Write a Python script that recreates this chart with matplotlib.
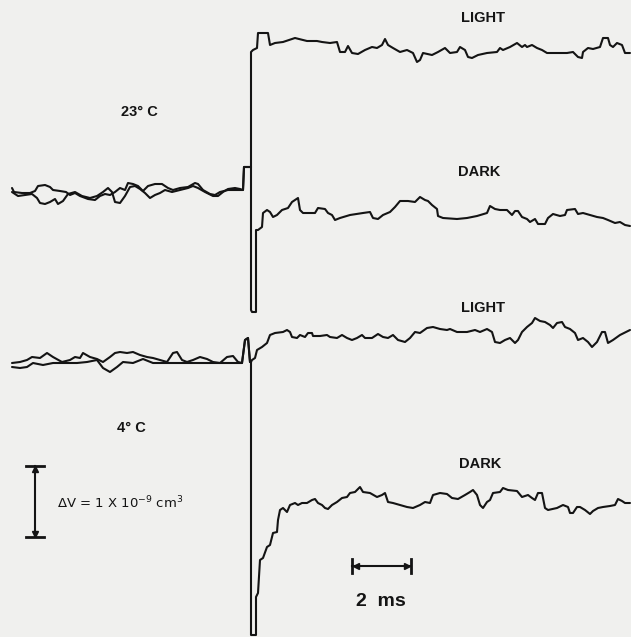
import matplotlib.pyplot as plt

# trace samples: x = horizontal position, y = vertical position
# (both in the record's own units, y increasing downward)

# ---- 23 C, before the flash: the two sweeps overlap ----
warm_light_pre_x = [12, 14, 22, 30, 35, 38, 45, 50, 53, 60, 66, 70, 75, 80, 88, 95, 100, 105, 110, 115,
                    120, 125, 128, 133, 138, 143, 148, 155, 162, 168, 173, 180, 188, 195, 198, 203, 210,
                    215, 220, 228, 235, 240, 243, 244, 249, 251]
warm_light_pre_y = [188, 192, 193, 193, 191, 186, 185, 187, 190, 191, 192, 195, 193, 196, 199, 200, 196, 194,
                    195, 192, 188, 190, 183, 184, 186, 191, 186, 184, 184, 188, 190, 188, 187, 183, 184, 190,
                    194, 195, 192, 190, 190, 190, 190, 167, 167, 167]
warm_dark_pre_x = [12, 18, 25, 32, 37, 40, 45, 50, 55, 58, 63, 68, 75, 82, 90, 97, 103, 108, 112, 115, 120,
                   125, 130, 135, 140, 145, 150, 155, 160, 165, 172, 180, 188, 193, 198, 205, 213, 218, 223,
                   228, 235, 240, 243, 244, 249, 251]
warm_dark_pre_y = [192, 196, 195, 194, 198, 203, 204, 202, 199, 204, 201, 194, 192, 196, 198, 196, 192, 188,
                   192, 202, 203, 196, 187, 186, 189, 193, 198, 195, 193, 190, 192, 190, 188, 186, 188, 192,
                   196, 196, 192, 189, 188, 189, 190, 167, 167, 167]

# ---- 23 C, after the flash ----
warm_light_x = [251, 251, 253, 257, 258, 268, 270, 275, 283, 295, 307, 317, 322, 330, 337, 340, 345, 348,
                352, 358, 365, 372, 377, 382, 385, 388, 393, 400, 407, 413, 417, 420, 423, 432, 438, 445,
                450, 457, 460, 465, 468, 472, 478, 487, 497, 500, 503, 510, 517, 522, 525, 527, 532, 537,
                542, 547, 553, 560, 567, 573, 578, 582, 583, 588, 593, 600, 603, 608, 610, 613, 617, 622,
                625, 630]
warm_light_y = [167, 52, 50, 48, 33, 33, 45, 43, 42, 38, 41, 41, 42, 43, 42, 52, 52, 46, 53, 54, 50, 47, 48,
                45, 39, 45, 48, 52, 50, 53, 62, 60, 53, 55, 52, 48, 53, 52, 47, 50, 57, 58, 55, 53, 52, 48,
                50, 47, 43, 47, 45, 47, 45, 48, 50, 53, 53, 53, 53, 52, 57, 58, 52, 48, 49, 47, 38, 38, 45,
                47, 43, 45, 53, 53]
warm_dark_x = [251, 251, 252, 256, 256, 258, 262, 263, 267, 270, 273, 277, 282, 288, 292, 295, 298, 300,
               303, 315, 318, 325, 328, 332, 335, 340, 350, 363, 370, 373, 378, 383, 390, 395, 400, 408,
               415, 420, 425, 428, 432, 437, 438, 443, 457, 467, 477, 487, 490, 495, 500, 507, 512, 515,
               518, 522, 527, 530, 535, 538, 545, 548, 553, 560, 565, 567, 575, 578, 583, 590, 597, 603,
               608, 615, 620, 625, 630]
warm_dark_y = [167, 310, 312, 312, 230, 230, 227, 213, 210, 212, 217, 215, 210, 208, 202, 200, 198, 210,
               213, 213, 208, 209, 213, 215, 220, 218, 215, 213, 212, 218, 219, 215, 212, 207, 201, 201,
               202, 197, 200, 201, 205, 209, 216, 218, 219, 218, 216, 213, 206, 209, 210, 210, 215, 211,
               211, 217, 219, 222, 219, 224, 224, 218, 214, 216, 215, 210, 209, 214, 213, 215, 217, 218,
               220, 223, 222, 225, 226]

# ---- 4 C, before the flash ----
cold_light_pre_x = [12, 20, 27, 32, 40, 47, 53, 62, 70, 75, 80, 83, 90, 97, 103, 110, 115, 120, 127, 133,
                    140, 147, 153, 160, 167, 173, 177, 182, 187, 193, 200, 207, 213, 220, 227, 233, 238,
                    242, 245, 248, 250, 251]
cold_light_pre_y = [363, 362, 360, 357, 358, 353, 357, 362, 360, 357, 358, 353, 357, 359, 362, 357, 353, 352,
                    353, 352, 355, 357, 358, 360, 362, 353, 352, 360, 362, 360, 357, 359, 362, 363, 357, 356,
                    362, 363, 340, 338, 362, 362]
cold_dark_pre_x = [12, 20, 27, 33, 43, 53, 67, 77, 87, 97, 103, 110, 117, 123, 133, 143, 153, 160, 167,
                   173, 182, 190, 200, 210, 220, 230, 238, 242, 245, 248, 250, 251]
cold_dark_pre_y = [367, 368, 367, 363, 365, 363, 363, 363, 362, 360, 368, 372, 367, 362, 363, 359, 363, 363,
                   363, 363, 363, 363, 363, 363, 363, 363, 363, 363, 340, 338, 362, 362]

# ---- 4 C, after the flash ----
cold_light_x = [251, 252, 255, 257, 262, 267, 270, 275, 283, 287, 290, 292, 297, 300, 305, 308, 312, 313,
                320, 327, 330, 337, 342, 347, 352, 357, 362, 365, 372, 378, 383, 388, 393, 398, 405, 410,
                415, 420, 427, 433, 440, 447, 450, 457, 467, 475, 480, 487, 492, 495, 500, 505, 510, 515,
                518, 522, 527, 532, 535, 540, 545, 550, 553, 557, 562, 565, 570, 575, 578, 583, 588, 592,
                597, 602, 605, 608, 613, 620, 630]
cold_light_y = [362, 360, 358, 350, 347, 343, 335, 333, 332, 330, 332, 337, 338, 335, 337, 333, 333, 336,
                336, 335, 337, 338, 335, 338, 340, 338, 335, 338, 338, 334, 337, 338, 335, 340, 342, 338,
                332, 333, 328, 327, 329, 330, 329, 332, 332, 330, 332, 329, 332, 342, 343, 340, 338, 343,
                340, 332, 327, 323, 318, 321, 322, 325, 328, 323, 322, 327, 329, 333, 340, 338, 342, 347,
                342, 332, 332, 343, 340, 335, 330]
cold_dark_x = [251, 251, 256, 256, 258, 260, 263, 267, 270, 273, 277, 278, 280, 283, 287, 290, 295, 298,
               302, 307, 312, 315, 318, 322, 325, 328, 332, 337, 342, 347, 350, 355, 360, 363, 370, 377,
               382, 385, 388, 393, 400, 407, 413, 420, 425, 430, 433, 440, 447, 452, 458, 465, 470, 473,
               477, 480, 483, 487, 490, 493, 500, 503, 508, 517, 522, 528, 532, 535, 538, 542, 545, 548,
               557, 563, 568, 570, 573, 577, 580, 585, 590, 593, 598, 603, 610, 615, 618, 622, 625, 630]
cold_dark_y = [362, 635, 635, 597, 593, 560, 558, 547, 545, 533, 532, 520, 510, 508, 512, 505, 503, 505,
               503, 503, 500, 499, 503, 505, 508, 509, 505, 502, 498, 497, 493, 492, 487, 492, 493, 497,
               495, 493, 502, 503, 505, 507, 508, 505, 502, 503, 495, 493, 494, 498, 499, 495, 492, 490,
               495, 505, 508, 502, 500, 493, 492, 488, 490, 491, 497, 495, 498, 500, 493, 493, 508, 510,
               508, 505, 507, 513, 513, 507, 507, 510, 514, 511, 508, 507, 506, 505, 499, 501, 503, 503]

# labels
temp_labels = ["23° C", "4° C"]
trace_labels = ["LIGHT", "DARK", "LIGHT", "DARK"]

bg = '#f0f0ee'
ink = '#141414'

fig = plt.figure(figsize=(6.31, 6.37), dpi=100, facecolor=bg)
ax = fig.add_axes([0, 0, 1, 1])
ax.set_facecolor(bg)
ax.set_xlim(0, 631)
ax.set_ylim(637, 0)
ax.axis('off')

lw = 1.5
for xs, ys in [(warm_light_pre_x, warm_light_pre_y), (warm_dark_pre_x, warm_dark_pre_y),
               (warm_light_x, warm_light_y), (warm_dark_x, warm_dark_y),
               (cold_light_pre_x, cold_light_pre_y), (cold_dark_pre_x, cold_dark_pre_y),
               (cold_light_x, cold_light_y), (cold_dark_x, cold_dark_y)]:
    ax.plot(xs, ys, color=ink, lw=lw, solid_joinstyle='round', solid_capstyle='round')

# trace names
for (tx, ty), s in zip([(483, 18), (479, 172), (483, 308), (480, 464)], trace_labels):
    ax.text(tx, ty, s, ha='center', va='center', fontsize=10.5, fontweight='bold',
            family='Liberation Sans', color=ink)

# temperatures
ax.text(139, 112, temp_labels[0], ha='center', va='center', fontsize=10.5, color=ink,
        fontweight='bold', family='Liberation Sans')
ax.text(131, 428, temp_labels[1], ha='center', va='center', fontsize=10.5, color=ink,
        fontweight='bold', family='Liberation Sans')

# time scale bar: 2 ms
ax.plot([352, 411], [566, 566], color=ink, lw=1.5)
ax.plot([352, 352], [559, 573], color=ink, lw=2)
ax.plot([411, 411], [559, 573], color=ink, lw=2)
ax.plot([356], [566], marker='<', color=ink, ms=5)
ax.plot([407], [566], marker='>', color=ink, ms=5)
ax.text(381, 601, "2  ms", ha='center', va='center', fontsize=14, color=ink,
        fontweight='bold', family='Liberation Sans')

# volume scale bar
ax.plot([35, 35], [466, 537], color=ink, lw=1.5)
ax.plot([26, 44], [466, 466], color=ink, lw=2)
ax.plot([26, 44], [537, 537], color=ink, lw=2)
ax.plot([35], [469], marker='^', color=ink, ms=5)
ax.plot([35], [534], marker='v', color=ink, ms=5)
ax.text(57, 503, r"ΔV = 1 X 10$^{-9}$ cm$^{3}$", ha='left', va='center', fontsize=9.5,
        color=ink, family='DejaVu Sans')

fig.savefig('out.png', dpi=100, facecolor=bg)
